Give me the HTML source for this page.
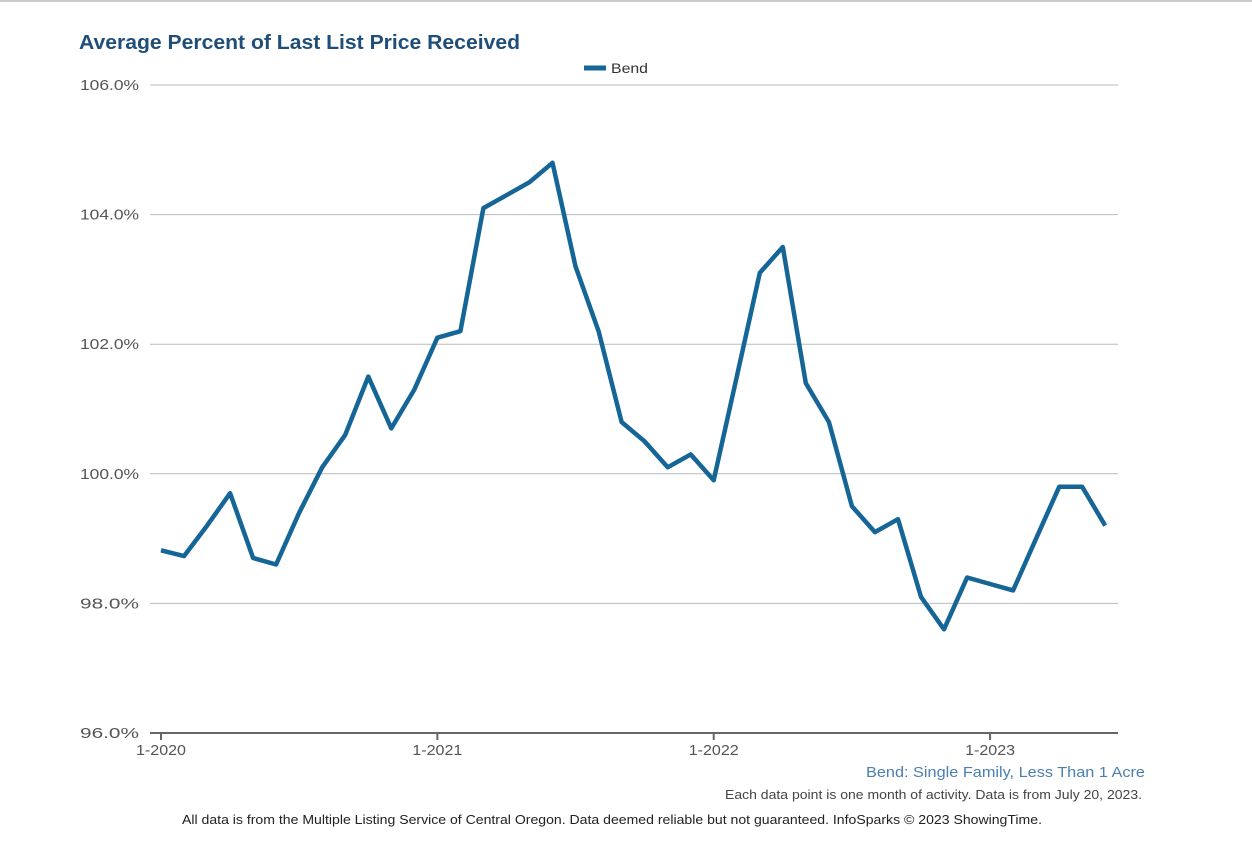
<!DOCTYPE html>
<html><head><meta charset="utf-8"><style>
body{margin:0;background:#fff;width:1252px;height:858px;overflow:hidden;font-family:"Liberation Sans",sans-serif}
</style></head><body>
<svg width="1252" height="858">
<rect x="0" y="0" width="1252" height="2" fill="#ccc"/>
<text x="79" y="49" font-size="20" font-weight="bold" fill="#1f4e79" textLength="441" lengthAdjust="spacingAndGlyphs">Average Percent of Last List Price Received</text>
<g><line x1="584" y1="68" x2="606" y2="68" stroke="#156596" stroke-width="5"/><text x="611" y="73" font-size="14" fill="#333" textLength="37" lengthAdjust="spacingAndGlyphs">Bend</text></g>
<g id="grid"></g><g id="axes"></g><path id="line" fill="none" stroke="#156596" stroke-width="4.5" stroke-linejoin="round"/>
<text x="866" y="777" font-size="15" fill="#4a7fb0" textLength="279" lengthAdjust="spacingAndGlyphs">Bend: Single Family, Less Than 1 Acre</text>
<text x="725" y="799" font-size="13" fill="#444" textLength="417" lengthAdjust="spacingAndGlyphs">Each data point is one month of activity. Data is from July 20, 2023.</text>
<text x="182" y="824" font-size="13" fill="#222" textLength="860" lengthAdjust="spacingAndGlyphs">All data is from the Multiple Listing Service of Central Oregon. Data deemed reliable but not guaranteed. InfoSparks © 2023 ShowingTime.</text>
</svg>
<script>
const values=[98.82,98.73,99.2,99.7,98.7,98.6,99.4,100.1,100.6,101.5,100.7,101.3,102.1,102.2,104.1,104.3,104.5,104.8,103.2,102.2,100.8,100.5,100.1,100.3,99.9,101.5,103.1,103.5,101.4,100.8,99.5,99.1,99.3,98.1,97.6,98.4,98.3,98.2,99.0,99.8,99.8,99.2];
const yTicks=[96,98,100,102,104,106];
const xLabels=["1-2020","1-2021","1-2022","1-2023"];
const NS="http://www.w3.org/2000/svg";
const X=i=>161+i*23.03, Y=v=>733-(v-96)*64.8;
const grid=document.getElementById('grid'),axes=document.getElementById('axes');
function mk(tag,a,p){const e=document.createElementNS(NS,tag);for(const k in a)e.setAttribute(k,a[k]);p.appendChild(e);return e;}
yTicks.forEach(v=>{
 if(v>96){const l=mk('line',{x1:150,x2:1118,y1:Y(v),y2:Y(v),stroke:'#bbb','stroke-width':1},grid);
 
 }
 const t=mk('text',{x:139,y:Y(v)+5,'font-size':15,fill:'#555','text-anchor':'end',textLength:59,lengthAdjust:'spacingAndGlyphs'},axes);t.textContent=v.toFixed(1)+'%';
 
 
});
const base=mk('line',{x1:150,x2:1118,y1:733,y2:733,stroke:'#666','stroke-width':2},axes);


xLabels.forEach((s,k)=>{const x=X(k*12);
 mk('line',{x1:x,x2:x,y1:733,y2:740,stroke:'#666','stroke-width':2},axes);
 const t=mk('text',{x:x,y:755,'font-size':15,fill:'#555','text-anchor':'middle',textLength:50,lengthAdjust:'spacingAndGlyphs'},axes);t.textContent=s;
 
 
});
document.getElementById('line').setAttribute('d',values.map((v,i)=>(i?'L':'M')+X(i).toFixed(1)+','+Y(v).toFixed(1)).join(''));
</script>
</body></html>
